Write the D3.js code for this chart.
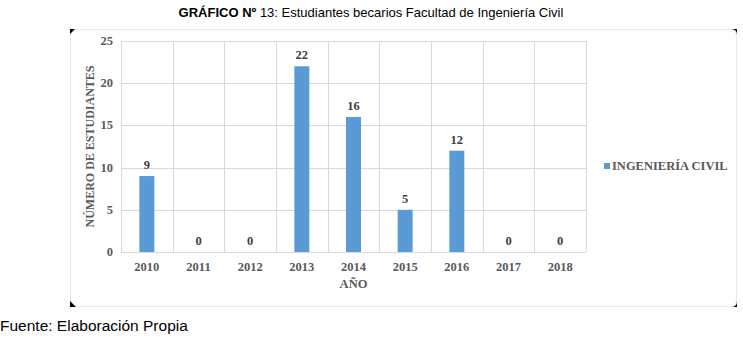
<!DOCTYPE html>
<html>
<head>
<meta charset="utf-8">
<script src="https://cdn.jsdelivr.net/npm/d3@7"></script>
<style>
    body { margin: 0; background: #fff; }
    #chart { width: 743px; height: 337px; }
</style>
</head>
<body>
<div id="chart"></div>
<script>
var years = ["2010", "2011", "2012", "2013", "2014", "2015", "2016", "2017", "2018"];
var becarios = [9, 0, 0, 22, 16, 5, 12, 0, 0];
var yTicks = [0, 5, 10, 15, 20, 25];
var serieName = "INGENIERÍA CIVIL";

var option = {
    container: "#chart",
    width: 743,
    height: 337,
    plotLeft: 121,
    plotRight: 586,
    plotTop: 41,
    plotBottom: 252
}

function barChart(options) {
    var svg = d3.select(options.container)
            .append("svg")
            .attr("width", options.width)
            .attr("height", options.height)
            .style("font-family", "'Liberation Serif', 'Times New Roman', serif");

    // title
    var title = svg.append("text")
            .attr("x", 371)
            .attr("y", 17)
            .attr("text-anchor", "middle")
            .style("font-family", "'Liberation Sans', Arial, sans-serif")
            .style("font-size", "13px")
            .attr("fill", "#000");
    title.append("tspan").attr("font-weight", "bold").text("GRÁFICO Nº");
    title.append("tspan").text(" 13: Estudiantes becarios Facultad de Ingeniería Civil");

    // frame
    svg.append("path")
            .attr("d", "M70.5,29.5 H729.5 Q736.5,29.5 736.5,36.5 V299.5 Q736.5,306.5 729.5,306.5 H70.5 Z")
            .attr("fill", "#fff")
            .attr("stroke", "#cfd8cf")
            .attr("stroke-dasharray", "1,1");
    svg.append("path").attr("d", "M70,29 h5 L70,34 Z").attr("fill", "#000");
    svg.append("path").attr("d", "M70,307 h6 L70,301 Z").attr("fill", "#000");
    svg.append("path").attr("d", "M731,29 h6 v6 Q737,29 731,29 Z").attr("fill", "#000");
    svg.append("path").attr("d", "M737,301 v6 h-6 Q737,307 737,301 Z").attr("fill", "#000");

    var x = d3.scaleBand()
            .domain(years)
            .range([options.plotLeft, options.plotRight])
            .paddingInner(0)
            .paddingOuter(0);
    var y = d3.scaleLinear()
            .domain([0, 25])
            .range([options.plotBottom, options.plotTop]);

    // horizontal grid
    svg.append("g")
            .selectAll("line")
            .data(yTicks)
            .enter().append("line")
            .attr("x1", options.plotLeft)
            .attr("x2", options.plotRight)
            .attr("y1", function (d) { return Math.round(y(d)) + 0.5; })
            .attr("y2", function (d) { return Math.round(y(d)) + 0.5; })
            .attr("stroke", "#d9d9d9");

    // vertical grid
    var bounds = years.map(function (d) { return x(d); }).concat([options.plotRight]);
    svg.append("g")
            .selectAll("line")
            .data(bounds)
            .enter().append("line")
            .attr("x1", function (d) { return Math.round(d) + 0.5; })
            .attr("x2", function (d) { return Math.round(d) + 0.5; })
            .attr("y1", options.plotTop)
            .attr("y2", options.plotBottom)
            .attr("stroke", "#d9d9d9");

    // bars
    var barW = 15;
    svg.append("g")
            .selectAll("rect")
            .data(becarios)
            .enter().append("rect")
            .attr("x", function (d, i) { return x(years[i]) + x.bandwidth() / 2 - barW / 2; })
            .attr("y", function (d) { return y(d); })
            .attr("width", barW)
            .attr("height", function (d) { return y(0) - y(d); })
            .attr("fill", "#5b9bd5");

    // value labels
    svg.append("g")
            .selectAll("text")
            .data(becarios)
            .enter().append("text")
            .attr("x", function (d, i) { return x(years[i]) + x.bandwidth() / 2; })
            .attr("y", function (d) { return y(d) - 7; })
            .attr("text-anchor", "middle")
            .attr("font-size", "12.5px")
            .attr("font-weight", "bold")
            .attr("fill", "#404040")
            .text(function (d) { return d; });

    // y axis labels
    svg.append("g")
            .selectAll("text")
            .data(yTicks)
            .enter().append("text")
            .attr("x", options.plotLeft - 8)
            .attr("y", function (d) { return y(d) + 4; })
            .attr("text-anchor", "end")
            .attr("font-size", "12.5px")
            .attr("font-weight", "bold")
            .attr("fill", "#595959")
            .text(function (d) { return d; });

    // x axis labels
    svg.append("g")
            .selectAll("text")
            .data(years)
            .enter().append("text")
            .attr("x", function (d) { return x(d) + x.bandwidth() / 2; })
            .attr("y", options.plotBottom + 19)
            .attr("text-anchor", "middle")
            .attr("font-size", "12.5px")
            .attr("font-weight", "bold")
            .attr("fill", "#595959")
            .text(function (d) { return d; });

    // axis titles
    svg.append("text")
            .attr("x", (options.plotLeft + options.plotRight) / 2)
            .attr("y", 288)
            .attr("text-anchor", "middle")
            .attr("font-size", "12.5px")
            .attr("font-weight", "bold")
            .attr("fill", "#595959")
            .text("AÑO");
    svg.append("text")
            .attr("transform", "translate(94," + ((options.plotTop + options.plotBottom) / 2) + ") rotate(-90)")
            .attr("text-anchor", "middle")
            .attr("font-size", "12px")
            .attr("font-weight", "bold")
            .attr("fill", "#595959")
            .text("NÚMERO DE ESTUDIANTES");

    // legend
    svg.append("rect")
            .attr("x", 604)
            .attr("y", 163)
            .attr("width", 6)
            .attr("height", 6)
            .attr("fill", "#5b9bd5");
    svg.append("text")
            .attr("x", 612)
            .attr("y", 170)
            .attr("font-size", "12.5px")
            .attr("font-weight", "bold")
            .attr("fill", "#595959")
            .text(serieName);

    // footer
    svg.append("text")
            .attr("x", 0)
            .attr("y", 331)
            .style("font-family", "'Liberation Sans', Arial, sans-serif")
            .style("font-size", "15.5px")
            .attr("fill", "#000")
            .text("Fuente: Elaboración Propia");
}
barChart(option);
</script>
</body>
</html>
